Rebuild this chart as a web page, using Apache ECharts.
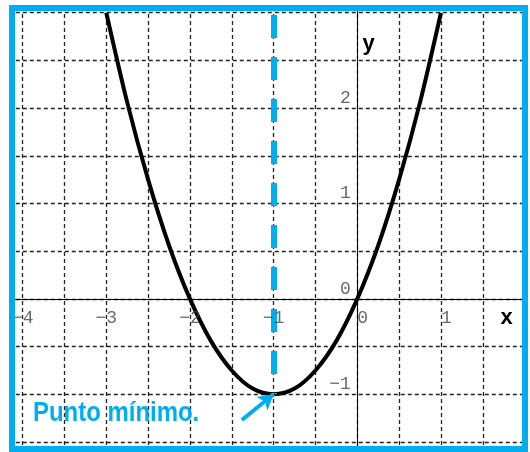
<!DOCTYPE html>
<html>
<head>
<meta charset="utf-8">
<script src="https://cdn.jsdelivr.net/npm/echarts@6/dist/echarts.min.js"></script>
<style>
html,body{margin:0;padding:0;background:#fff;}
#c{width:530px;height:452px;}
</style>
</head>
<body>
<div id="c"></div>
<script>
// Tick labels shown on each axis
const xTickLabels = [-4, -3, -2, -1, 0, 1];
const yTickLabels = [-1, 0, 1, 2];
// Curve points
const curveX = [-3, -2.75, -2.5, -2.25, -2, -1.75, -1.5, -1.25, -1, -0.75, -0.5, -0.25, 0, 0.25, 0.5, 0.75, 1];
const curveY = [3, 2.06, 1.25, 0.56, 0, -0.44, -0.75, -0.94, -1, -0.94, -0.75, -0.44, 0, 0.56, 1.25, 2.06, 3];
// Minimum point and annotation
const minPoint = [-1, -1];
const dashTopY = 2.976;
const arrowTail = [-1.38, -1.27];
const annotationText = 'Punto mínimo.';

const BLUE = '#00aeef';
const chart = echarts.init(document.getElementById('c'), null, {renderer: 'canvas'});

function signed(v) {
  if (Math.abs(v) < 1e-9) v = 0;
  return v < 0 ? '\u2212' + Math.abs(v) : String(v);
}
const labelFont = {fontFamily: 'Liberation Mono', fontSize: 18, color: '#444'};

const option = {
  animation: false,
  backgroundColor: '#fff',
  grid: {
    left: -19.2, top: -35, width: 543.8, height: 524.7,
    containLabel: false, outerBoundsMode: 'none'
  },
  xAxis: {
    type: 'value', min: -4.5, max: 2, interval: 0.5,
    axisLine: {onZero: true, lineStyle: {color: '#000', width: 1}},
    axisTick: {show: false},
    axisLabel: {show: false},
    splitLine: {show: true, lineStyle: {color: '#222', width: 1.3, type: [4, 3]}}
  },
  yAxis: {
    type: 'value', min: -2, max: 3.5, interval: 0.5,
    axisLine: {onZero: true, lineStyle: {color: '#000', width: 1}},
    axisTick: {show: false},
    axisLabel: {show: false},
    splitLine: {show: true, lineStyle: {color: '#222', width: 1.3, type: [4, 3]}}
  },
  series: [
    {
      type: 'line',
      data: [],
      z: 2,
      markLine: {
        silent: true, animation: false,
        symbol: ['none', 'none'],
        label: {show: false},
        lineStyle: {color: BLUE, width: 6, type: [23, 19], cap: 'butt'},
        emphasis: {disabled: true},
        data: [[{coord: [minPoint[0], dashTopY]}, {coord: minPoint}]]
      }
    },
    {
      type: 'line',
      data: curveX.map((x, i) => [x, curveY[i]]),
      smooth: 0.3,
      showSymbol: false,
      lineStyle: {color: '#000', width: 4},
      z: 3
    },
    {
      type: 'line',
      data: [],
      z: 4,
      markLine: {
        silent: true, animation: false,
        symbol: ['none', 'arrow'],
        symbolSize: [13, 15],
        label: {show: false},
        lineStyle: {color: BLUE, width: 4, type: 'solid'},
        emphasis: {disabled: true},
        data: [[{coord: arrowTail}, {coord: minPoint}]]
      }
    },
    {
      // x-axis tick labels
      type: 'scatter',
      silent: true,
      z: 5,
      symbolSize: 1,
      itemStyle: {color: 'rgba(0,0,0,0)'},
      data: xTickLabels.map(v => [v, 0]),
      label: Object.assign({
        show: true, position: 'bottom', distance: 10, align: 'center',
        formatter: p => (p.value[0] < 0 ? '' : '\u00a0') + signed(p.value[0])
      }, labelFont)
    },
    {
      // y-axis tick labels
      type: 'scatter',
      silent: true,
      z: 5,
      symbolSize: 1,
      itemStyle: {color: 'rgba(0,0,0,0)'},
      data: yTickLabels.map(v => [0, v]),
      label: Object.assign({
        show: true, position: 'left', distance: 6, offset: [0, -10],
        formatter: p => signed(p.value[1])
      }, labelFont)
    }
  ],
  graphic: [
    {type: 'rect', z: 100, shape: {x: 0, y: 0, width: 9, height: 452}, style: {fill: '#fff'}},
    {type: 'rect', z: 100, shape: {x: 0, y: 0, width: 530, height: 5}, style: {fill: '#fff'}},
    {type: 'rect', z: 100, shape: {x: 528, y: 0, width: 2, height: 452}, style: {fill: '#fff'}},
    {type: 'rect', z: 101, shape: {x: 12, y: 8, width: 513, height: 441}, style: {fill: 'none', stroke: BLUE, lineWidth: 6}},
    {type: 'text', z: 101, x: 506.5, y: 317.5, style: {text: 'x', font: 'bold 22px "Liberation Sans", Arial, sans-serif', fill: '#000', textAlign: 'center', textVerticalAlign: 'middle'}},
    {type: 'text', z: 101, x: 368.5, y: 44, style: {text: 'y', font: 'bold 22px "Liberation Sans", Arial, sans-serif', fill: '#000', textAlign: 'center', textVerticalAlign: 'middle'}},
    {type: 'text', z: 101, x: 33, y: 413, scaleX: 0.855, style: {text: annotationText, font: 'bold 28px "Liberation Sans", Arial, sans-serif', fill: BLUE, textAlign: 'left', textVerticalAlign: 'middle'}}
  ]
};
chart.setOption(option);
</script>
</body>
</html>
